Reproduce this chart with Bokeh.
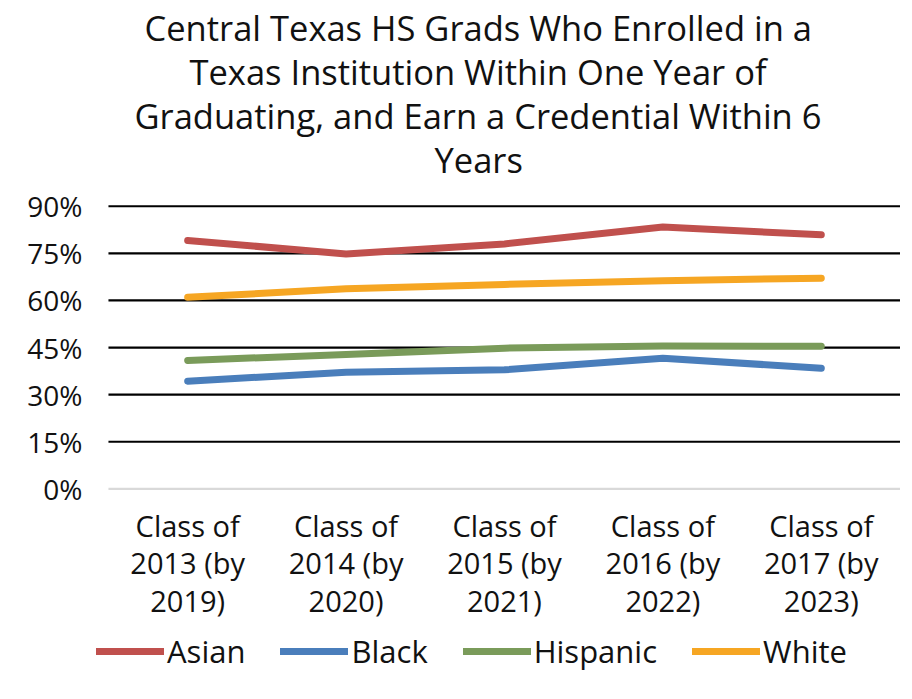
from bokeh.plotting import figure
from bokeh.models import (Range1d, FixedTicker, PrintfTickFormatter,
                          Legend, LegendItem, Label, Title)
from bokeh.embed import file_html
from bokeh.resources import INLINE

title_lines = ["Central Texas HS Grads Who Enrolled in a",
               "Texas Institution Within One Year of",
               "Graduating, and Earn a Credential Within 6",
               "Years"]

categories = ["Class of\n2013 (by\n2019)", "Class of\n2014 (by\n2020)",
              "Class of\n2015 (by\n2021)", "Class of\n2016 (by\n2022)",
              "Class of\n2017 (by\n2023)"]
series_names = ["Asian", "Black", "Hispanic", "White"]
asian = [79.1, 74.8, 78.0, 83.4, 80.9]
black = [34.3, 37.1, 37.9, 41.6, 38.4]
hispanic = [40.9, 42.8, 44.8, 45.5, 45.4]
white = [61.0, 63.7, 65.1, 66.3, 67.1]
y_ticks = [0, 15, 30, 45, 60, 75, 90]

colors = ["#C0504D", "#4A7EBB", "#7A9B5A", "#F6A623"]
FONT = "Open Sans"
TXT = "#111111"

n = len(categories)
xpos = list(range(n))

# frame also holds the category labels and legend (below the 0% line)
p = figure(width=900, height=683, output_backend="svg", toolbar_location=None,
           x_range=Range1d(-0.626, n - 0.5), y_range=Range1d(-62.0, 98.2),
           min_border_left=88, min_border_right=0, min_border_top=180,
           min_border_bottom=0)
p.outline_line_color = None
p.background_fill_color = "white"
p.border_fill_color = "white"
p.grid.visible = False

# horizontal gridlines spanning the category area
x0 = [-0.5] * len(y_ticks)
x1 = [n - 0.5] * len(y_ticks)
grid_colors = ["#D9D9D9"] + ["black"] * (len(y_ticks) - 1)
p.segment(x0=x0, x1=x1, y0=y_ticks, y1=y_ticks, line_color=grid_colors,
          line_width=2.2)

renderers = []
for name, vals, c in zip(series_names, [asian, black, hispanic, white], colors):
    r = p.line(xpos, vals, line_color=c, line_width=7, line_cap="round",
               line_join="round")
    renderers.append((name, r))

# y axis
p.yaxis.ticker = FixedTicker(ticks=y_ticks)
p.yaxis.formatter = PrintfTickFormatter(format="%d%%")
p.yaxis.axis_line_color = None
p.yaxis.major_tick_line_color = None
p.yaxis.minor_tick_line_color = None
p.yaxis.major_tick_out = 0
p.yaxis.major_tick_in = 0
p.yaxis.major_label_text_font = FONT
p.yaxis.major_label_text_font_size = "28px"
p.yaxis.major_label_text_color = TXT
p.yaxis.major_label_standoff = 6

# category labels under each point
p.xaxis.visible = False
for i, cat in zip(xpos, categories):
    p.add_layout(Label(x=i, y=-5.6, text=cat, text_align="center",
                       text_baseline="top", text_font=FONT,
                       text_font_size="29px", text_color=TXT,
                       text_line_height=0.95))

legend = Legend(items=[LegendItem(label=nm, renderers=[r]) for nm, r in renderers],
                orientation="horizontal", location=(8, 11),
                label_text_font=FONT, label_text_font_size="31px",
                label_text_color=TXT, glyph_width=68, glyph_height=24,
                label_standoff=3, spacing=35, border_line_color=None,
                background_fill_alpha=0, padding=6, margin=0)
p.add_layout(legend)

# title lines, nearest to the plot first
offsets = [56, 101, 46, 346]
for line, off in reversed(list(zip(title_lines, offsets))):
    p.add_layout(Title(text=line, align="left", offset=off, standoff=-5,
                       text_font=FONT, text_font_size="34.5px",
                       text_font_style="normal", text_color=TXT), "above")

open("out.html", "w").write(file_html(p, INLINE))
